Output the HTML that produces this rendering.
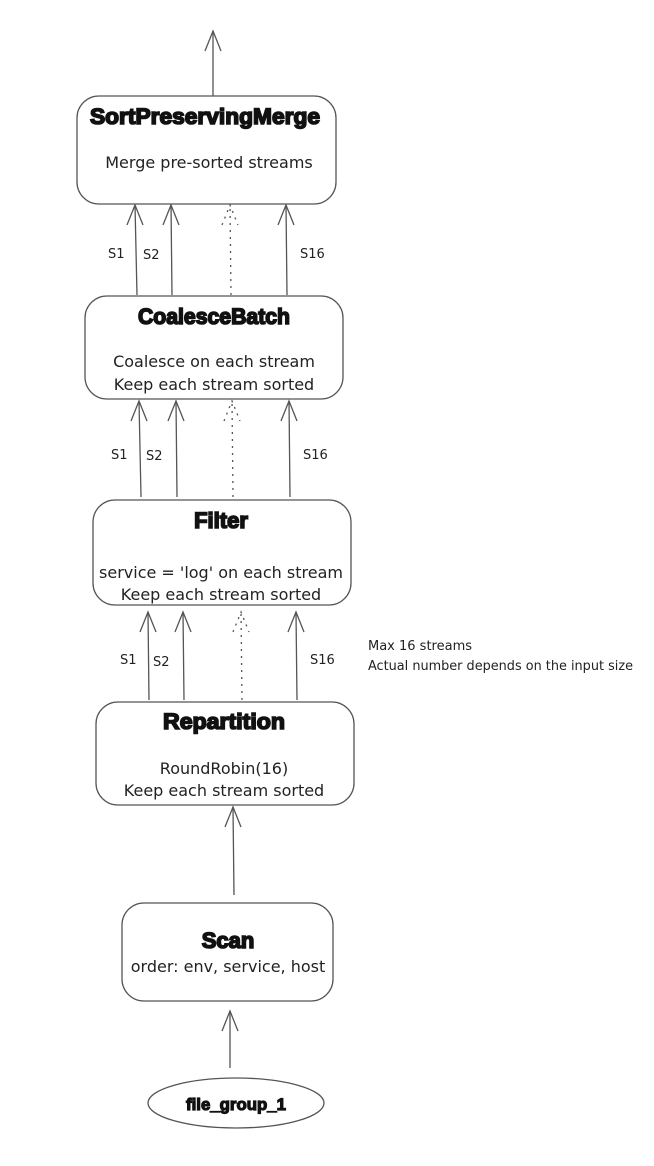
<!DOCTYPE html>
<html><head><meta charset="utf-8"><style>
html,body{margin:0;padding:0;background:#fff;}
svg{display:block;}
.t{font-family:"Liberation Sans",sans-serif;font-weight:bold;font-size:22px;fill:#111;stroke:#111;stroke-width:1.6;text-anchor:middle;}
.b{font-family:"DejaVu Sans","Liberation Sans",sans-serif;font-size:16px;fill:#222;text-anchor:middle;}
.s{font-family:"DejaVu Sans","Liberation Sans",sans-serif;font-size:13px;fill:#222;}
.box{fill:#fff;stroke:#555;stroke-width:1.3;}
.ln{stroke:#555;stroke-width:1.3;fill:none;}
.dl{stroke:#555;stroke-width:1.3;fill:none;stroke-dasharray:2 5;}
</style></head><body>
<svg width="654" height="1166" viewBox="0 0 654 1166" xmlns="http://www.w3.org/2000/svg">
<defs>
<g id="ah"><path d="M-8,20 L0,0 L8,20" class="ln"/></g>
</defs>
<line x1="213" y1="96" x2="213" y2="31" class="ln"/><use href="#ah" x="213" y="31"/>
<rect x="77" y="96" width="259" height="108" rx="22" class="box"/>
<text x="205" y="124" class="t" textLength="230" lengthAdjust="spacingAndGlyphs">SortPreservingMerge</text>
<text x="209" y="168" class="b">Merge pre-sorted streams</text>
<line x1="137" y1="295" x2="135" y2="205" class="ln"/><use href="#ah" x="135" y="205"/>
<line x1="172" y1="295" x2="171" y2="205" class="ln"/><use href="#ah" x="171" y="205"/>
<line x1="231" y1="295" x2="230" y2="205" class="dl"/><path d="M222,225 L230,205 L238,225" class="dl"/>
<line x1="287" y1="295" x2="286" y2="205" class="ln"/><use href="#ah" x="286" y="205"/>
<text x="108" y="258" class="s">S1</text><text x="143" y="259" class="s">S2</text><text x="300" y="258" class="s">S16</text>
<rect x="85" y="296" width="258" height="103" rx="22" class="box"/>
<text x="214" y="324" class="t" textLength="152" lengthAdjust="spacingAndGlyphs">CoalesceBatch</text>
<text x="214" y="367" class="b">Coalesce on each stream</text>
<text x="214" y="390" class="b">Keep each stream sorted</text>
<line x1="141" y1="497" x2="139" y2="401" class="ln"/><use href="#ah" x="139" y="401"/>
<line x1="177" y1="497" x2="176" y2="401" class="ln"/><use href="#ah" x="176" y="401"/>
<line x1="233" y1="497" x2="232" y2="401" class="dl"/><path d="M224,421 L232,401 L240,421" class="dl"/>
<line x1="290" y1="497" x2="289" y2="401" class="ln"/><use href="#ah" x="289" y="401"/>
<text x="111" y="459" class="s">S1</text><text x="146" y="460" class="s">S2</text><text x="303" y="459" class="s">S16</text>
<rect x="93" y="500" width="258" height="105" rx="22" class="box"/>
<text x="221" y="528" class="t">Filter</text>
<text x="221" y="578" class="b">service = 'log' on each stream</text>
<text x="221" y="600" class="b">Keep each stream sorted</text>
<line x1="149" y1="700" x2="148" y2="612" class="ln"/><use href="#ah" x="148" y="612"/>
<line x1="184" y1="700" x2="183" y2="612" class="ln"/><use href="#ah" x="183" y="612"/>
<line x1="242" y1="700" x2="241" y2="612" class="dl"/><path d="M233,632 L241,612 L249,632" class="dl"/>
<line x1="297" y1="700" x2="296" y2="612" class="ln"/><use href="#ah" x="296" y="612"/>
<text x="120" y="664" class="s">S1</text><text x="153" y="666" class="s">S2</text><text x="310" y="664" class="s">S16</text>
<text x="368" y="650" class="s">Max 16 streams</text>
<text x="368" y="670" class="s" textLength="265" lengthAdjust="spacingAndGlyphs">Actual number depends on the input size</text>
<rect x="96" y="702" width="258" height="103" rx="22" class="box"/>
<text x="224" y="729" class="t" textLength="122" lengthAdjust="spacingAndGlyphs">Repartition</text>
<text x="224" y="774" class="b">RoundRobin(16)</text>
<text x="224" y="796" class="b">Keep each stream sorted</text>
<line x1="234" y1="895" x2="233" y2="807" class="ln"/><use href="#ah" x="233" y="807"/>
<rect x="122" y="903" width="211" height="98" rx="22" class="box"/>
<text x="228" y="948" class="t">Scan</text>
<text x="228" y="972" class="b">order: env, service, host</text>
<line x1="230" y1="1068" x2="230" y2="1011" class="ln"/><use href="#ah" x="230" y="1011"/>
<ellipse cx="236" cy="1103" rx="88" ry="25" class="box"/>
<text x="236" y="1110" class="t" style="font-size:17px;stroke-width:1.2" textLength="100" lengthAdjust="spacingAndGlyphs">file_group_1</text>
</svg>
</body></html>
